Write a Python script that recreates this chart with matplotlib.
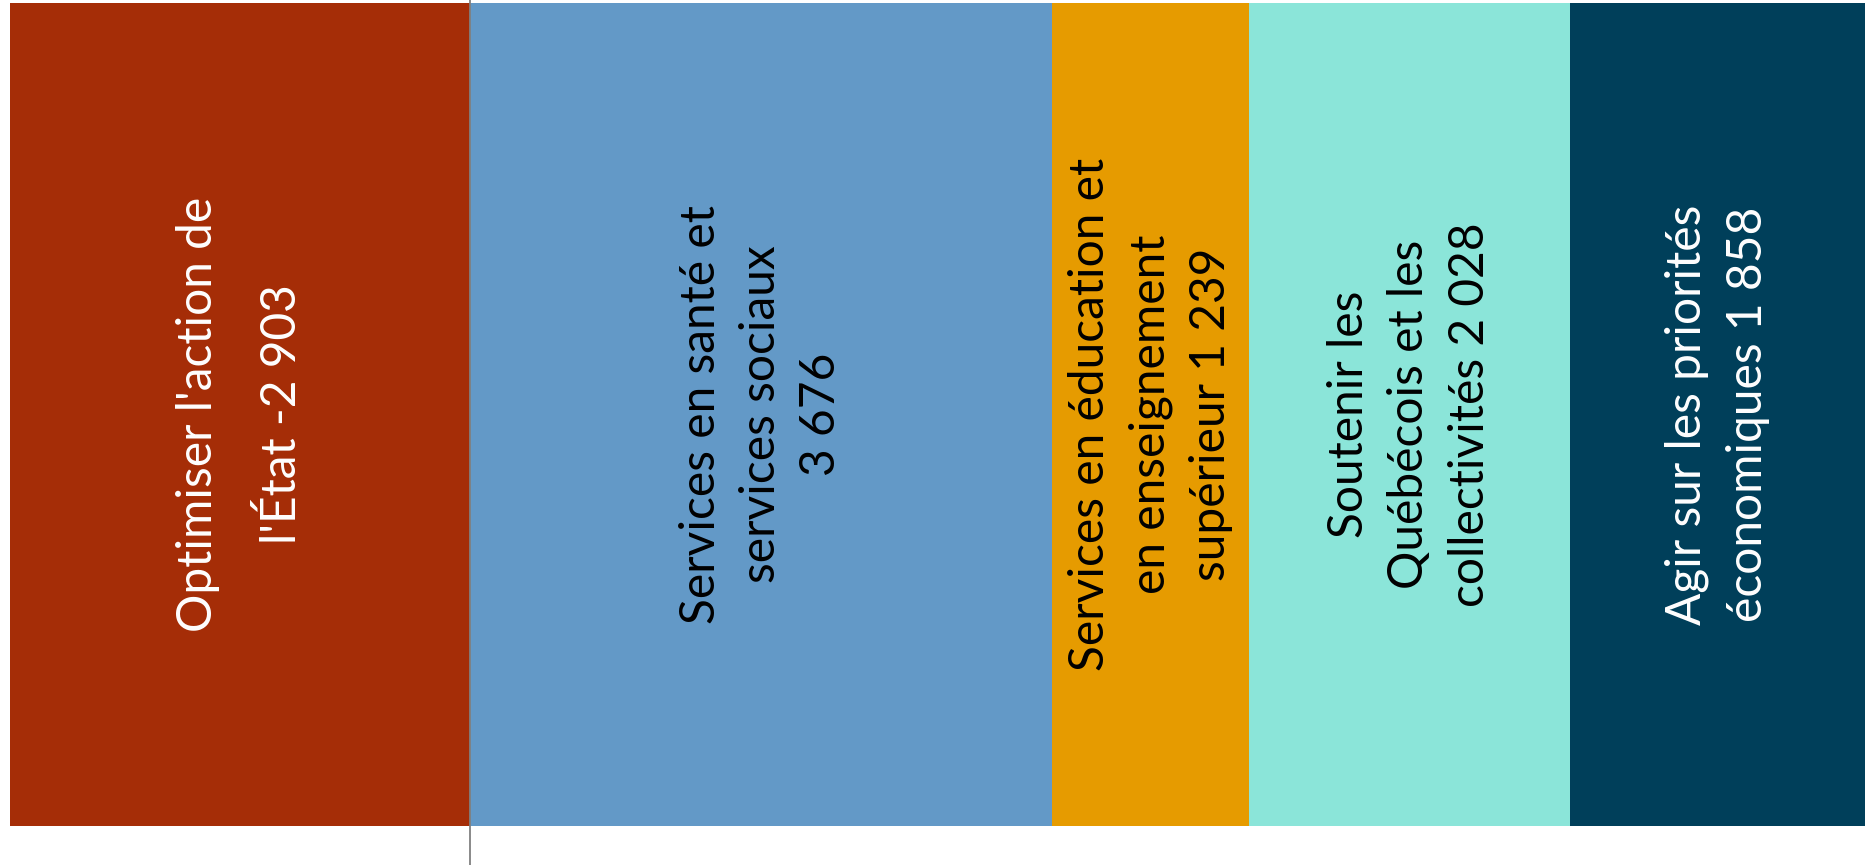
import matplotlib.pyplot as plt
import numpy as np

# mesures du budget (M$)
labels = ["Optimiser l'action de\nl'État", "Services en santé et\nservices sociaux\n",
          "Services en éducation et\nen enseignement\nsupérieur", "Soutenir les\nQuébécois et les\ncollectivités",
          "Agir sur les priorités\néconomiques"]
values = [-2903, 3676, 1239, 2028, 1858]
colors = ['#A52D07', '#6399C7', '#E69B00', '#8BE5D9', '#003F5A']
text_colors = ['white', 'black', 'black', 'black', 'white']
spacing = [2.05, 1.45, 1.45, 1.45, 1.45]


def fmt(v):
    s = f"{abs(v):,}".replace(",", " ")
    return ("-" if v < 0 else "") + s


fig = plt.figure(figsize=(18.7, 8.65), dpi=100)
ax = fig.add_axes([10 / 1870, 0, 1 - 15.5 / 1870, 1])

pos_sum = 0
for lab, v, c, tc, ls in zip(labels, values, colors, text_colors, spacing):
    if v < 0:
        left = 0
    else:
        left = pos_sum
        pos_sum += v
    ax.barh(0.5208, v, left=left, height=0.9514, color=c)
    sep = " " if not lab.endswith("\n") else ""
    ax.text(left + v / 2, 0.5208, lab + sep + fmt(v), rotation=90, ha='center', va='center',
            multialignment='center', color=tc, fontsize=34.5, family='Lato', fontweight='normal',
            linespacing=ls)

ax.axvline(0, color='#808080', lw=1.3)
ax.set_xlim(values[0], pos_sum)
ax.set_ylim(0, 1)
ax.axis('off')

fig.savefig('out.png', dpi=100)
